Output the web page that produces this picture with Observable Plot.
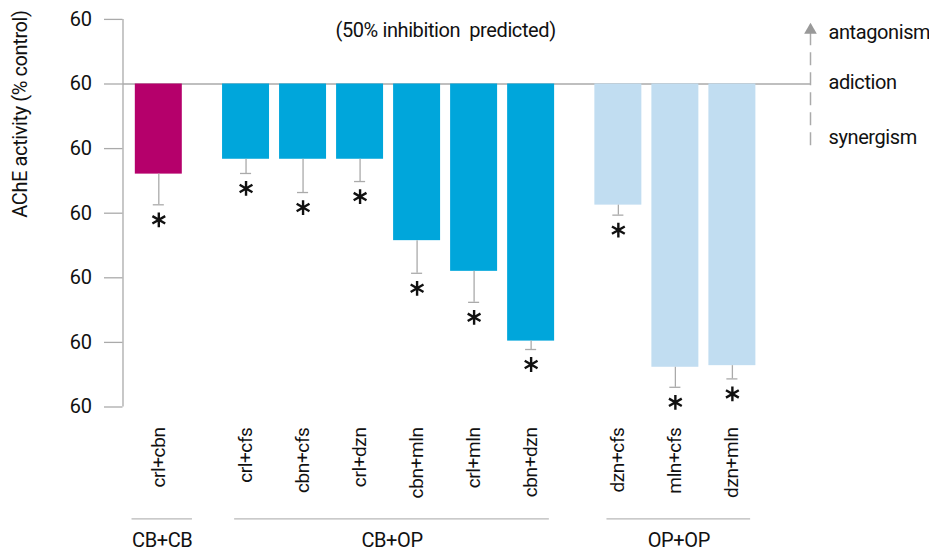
<!DOCTYPE html>
<html>
<head>
<meta charset="utf-8">
<script src="https://cdn.jsdelivr.net/npm/d3@7"></script>
<script src="https://cdn.jsdelivr.net/npm/@observablehq/plot@0.6"></script>
<style>
  html, body { margin: 0; padding: 0; background: #fff; }
  #chart svg text { white-space: pre; letter-spacing: -0.4px; }
</style>
</head>
<body>
<div id="chart"></div>
<script>
// ---- data ----
const categories = ["crl+cbn", "crl+cfs", "cbn+cfs", "crl+dzn", "cbn+mln", "crl+mln", "cbn+dzn", "dzn+cfs", "mln+cfs", "dzn+mln"];
const groupOf    = ["CB+CB", "CB+OP", "CB+OP", "CB+OP", "CB+OP", "CB+OP", "CB+OP", "OP+OP", "OP+OP", "OP+OP"];
const activity   = [72.1, 76.7, 76.7, 76.7, 51.5, 42.0, 20.4, 62.5, 12.3, 12.8];
const errorBar   = [9.5, 4.4, 10.3, 6.9, 10.1, 9.6, 2.6, 3.1, 6.2, 4.1];
const significant = [true, true, true, true, true, true, true, true, true, true];
const groupNames  = ["CB+CB", "CB+OP", "OP+OP"];
const groupColors = ["#b5006b", "#00a6db", "#c1ddf1"];
const yTicks      = [0, 20, 40, 60, 80, 100, 120];
const yTickLabels = ["60", "60", "60", "60", "60", "60", "60"];
const baseline    = 100;
const titleText   = "(50% inhibition  predicted)";
const yLabel      = "AChE activity (% control)";
const legendLabels = ["antagonism", "adiction", "synergism"];

// ---- layout helpers ----
const groupGap = 0.53;
const rows = categories.map((c, i) => ({
  name: c,
  group: groupOf[i],
  pos: i + groupGap * groupNames.indexOf(groupOf[i]),
  value: activity[i],
  low: activity[i] - errorBar[i],
  sig: significant[i]
}));
const halfW = 0.412;
const capW = 0.097;
const xDomain = [-0.628, 11.43];
const groupRows = groupNames.map(g => {
  const ps = rows.filter(r => r.group === g).map(r => r.pos);
  const first = d3.min(ps), last = d3.max(ps);
  const mid = (first + last) / 2 + 0.06;
  const half = Math.max((last - first) / 2 + 0.26, 0.53);
  return {group: g, mid, x1: mid - half, x2: mid + half};
});
const barMid = (d3.min(rows, r => r.pos) + d3.max(rows, r => r.pos)) / 2;

const font = "Roboto, 'Liberation Sans', sans-serif";
const gray = "#aaaaaa";

const chart = Plot.plot({
  width: 929,
  height: 554,
  marginLeft: 122.5,
  marginRight: 119,
  marginTop: 18.9,
  marginBottom: 147.5,
  style: {fontFamily: font, background: "#fff", overflow: "visible"},
  x: {type: "linear", domain: xDomain, axis: null},
  y: {domain: [0, 120], axis: null},
  marks: [
    // y axis
    Plot.axisY({
      ticks: yTicks,
      tickFormat: (d, i) => yTickLabels[i],
      tickSize: 18.5,
      tickPadding: 13,
      stroke: gray,
      strokeWidth: 1.3,
      fill: "#111",
      fontSize: 20
    }),
    Plot.ruleX([xDomain[0]], {y1: 0, y2: 120, stroke: gray, strokeWidth: 1.3}),
    // baseline
    Plot.ruleY([baseline], {stroke: gray, strokeWidth: 1.3}),
    // bars
    Plot.rectY(rows, {
      x1: d => d.pos - halfW,
      x2: d => d.pos + halfW,
      y1: baseline,
      y2: "value",
      fill: d => groupColors[groupNames.indexOf(d.group)]
    }),
    // error bars
    Plot.ruleX(rows, {x: "pos", y1: "value", y2: "low", stroke: gray, strokeWidth: 1.3}),
    Plot.ruleY(rows, {y: "low", x1: d => d.pos - capW, x2: d => d.pos + capW, stroke: gray, strokeWidth: 1.3}),
    // significance asterisks
    Plot.dot(rows.filter(r => r.sig), {
      x: "pos", y: "low", dy: 15,
      symbol: "asterisk", r: 7, stroke: "#111", strokeWidth: 2.4
    }),
    // category labels
    Plot.text(rows, {
      x: "pos", text: "name",
      frameAnchor: "bottom", dy: 20.5,
      rotate: -90, textAnchor: "end", lineAnchor: "middle",
      fontSize: 19, fill: "#111"
    }),
    // group brackets
    Plot.ruleY(groupRows, {
      x1: "x1", x2: "x2",
      frameAnchor: "bottom", y: () => 0, dy: 111.8,
      stroke: "#b8b8b8", strokeWidth: 1.3
    }),
    Plot.text(groupRows, {
      x: "mid", text: "group",
      frameAnchor: "bottom", dy: 133.5,
      lineAnchor: "middle", fontSize: 20, fill: "#111"
    }),
    // title
    Plot.text([titleText], {
      x: barMid, frameAnchor: "top", dy: 11,
      lineAnchor: "middle", fontSize: 20, fill: "#111"
    }),
    // y label
    Plot.text([yLabel], {
      frameAnchor: "top-left", dx: -102.5, dy: -9,
      rotate: -90, textAnchor: "end", lineAnchor: "middle",
      fontSize: 20, fill: "#111"
    }),
    // interaction legend (dashed arrow)
    Plot.ruleX([xDomain[1]], {y1: 80.9, y2: 115.6, stroke: gray, strokeWidth: 1.5, strokeDasharray: "13,7"}),
    Plot.dot([xDomain[1]], {x: d => d, y: 116.7, symbol: "triangle", r: 4.7, fill: "#999", stroke: "none"}),
    Plot.text([legendLabels[0]], {frameAnchor: "top-right", dx: 18, dy: 13, textAnchor: "start", lineAnchor: "middle", fontSize: 20, fill: "#111"}),
    Plot.text([legendLabels[1]], {frameAnchor: "top-right", dx: 18, dy: 63, textAnchor: "start", lineAnchor: "middle", fontSize: 20, fill: "#111"}),
    Plot.text([legendLabels[2]], {frameAnchor: "top-right", dx: 18, dy: 118, textAnchor: "start", lineAnchor: "middle", fontSize: 20, fill: "#111"})
  ]
});
document.getElementById("chart").appendChild(chart);
</script>
</body>
</html>
